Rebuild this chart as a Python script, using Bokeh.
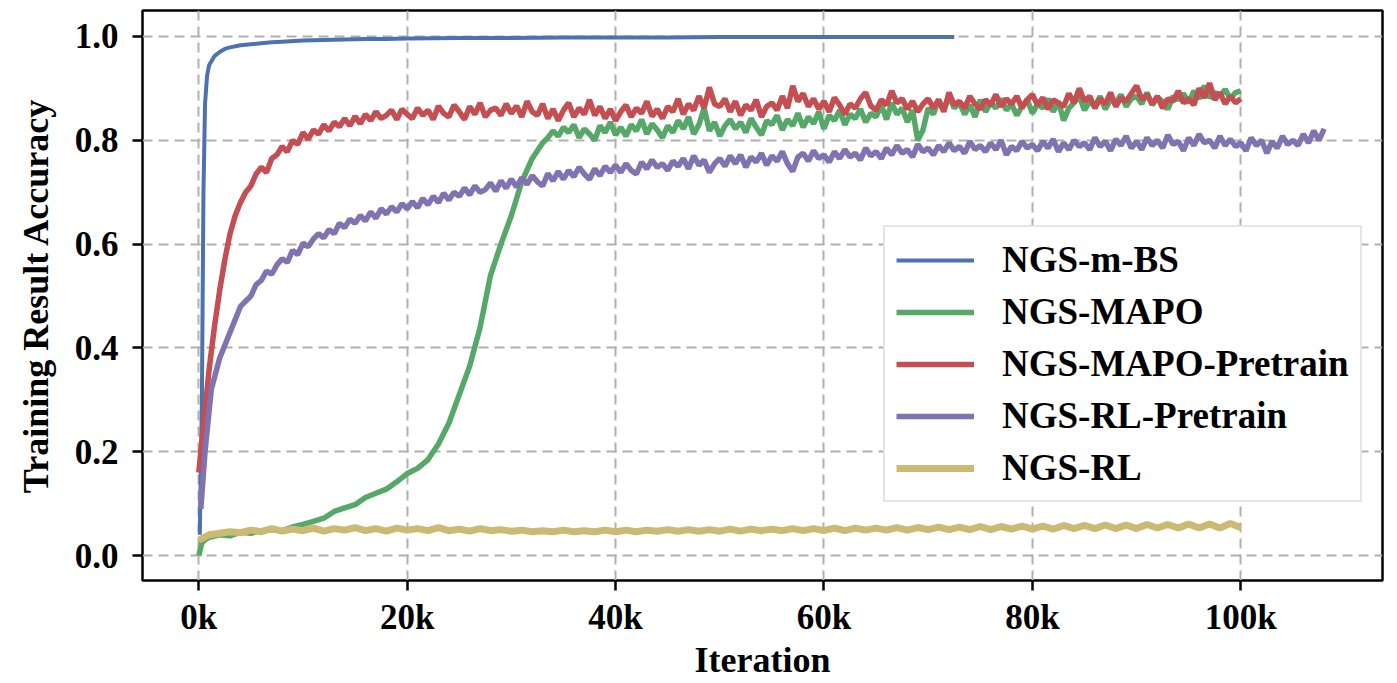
from bokeh.plotting import figure
from bokeh.models import Range1d, FixedTicker, Legend, LegendItem, NumeralTickFormatter
from bokeh.embed import file_html
from bokeh.resources import INLINE

# ---------------- data (iterations in thousands) ----------------
series_names = ["NGS-m-BS", "NGS-MAPO", "NGS-MAPO-Pretrain", "NGS-RL-Pretrain", "NGS-RL"]
series_colors = ["#4C72B0", "#55A868", "#C44E52", "#8172B2", "#CCB974"]

x_ticks = [0, 20, 40, 60, 80, 100]
x_tick_labels = ["0k", "20k", "40k", "60k", "80k", "100k"]
y_ticks = [0.0, 0.2, 0.4, 0.6, 0.8, 1.0]


def half_steps(start, stop):
    # sampling positions every 0.5k between start and stop (inclusive)
    return [start + 0.5 * i for i in range(int((stop - start) * 2) + 1)]


# NGS-m-BS
blue_x = [0.1, 0.3, 0.45, 0.6, 0.8, 1.0, 1.5, 2.0, 2.5, 3, 4, 5, 6, 7, 8, 10, 12, 14, 16, 18,
          20, 25, 30, 35, 40, 45, 50, 55, 60, 65, 70, 72.5]
blue_y = [0.04, 0.30, 0.70, 0.87, 0.925, 0.945, 0.962, 0.970, 0.976, 0.979, 0.983, 0.985, 0.987,
          0.989, 0.990, 0.992, 0.993, 0.994, 0.995, 0.995, 0.996, 0.997, 0.997, 0.998, 0.998,
          0.998, 0.999, 0.999, 0.999, 0.999, 0.999, 0.999]

# NGS-MAPO
green_x = [0, 0.3, 0.7] + list(range(1, 33)) + half_steps(33, 100)
green_y = [0.000, 0.025, 0.032,
           0.035, 0.040, 0.038, 0.045, 0.043, 0.048, 0.050, 0.048, 0.055, 0.060,
           0.066, 0.072, 0.085, 0.092, 0.098, 0.112, 0.120, 0.128, 0.142, 0.158,
           0.168, 0.185, 0.215, 0.255, 0.310, 0.365, 0.440, 0.540, 0.600, 0.655,
           0.720, 0.765,
           .795, .805, .818, .808, .825, .815, .830, .805, .822, .812,
           .800, .828, .815, .835, .810, .825, .808, .830, .818, .840,
           .812, .832, .820, .805, .828, .815, .838, .822, .845, .812,
           .830, .862, .818, .835, .808, .828, .840, .822, .835, .815,
           .842, .825, .810, .838, .830, .848, .820, .840, .828, .852,
           .825, .845, .832, .855, .822, .848, .838, .858, .830, .850,
           .842, .860, .835, .852, .845, .868, .840, .872, .850, .862,
           .835, .858, .800, .820, .862, .850, .878, .858, .885, .862,
           .872, .850, .868, .845, .878, .855, .872, .862, .880, .858,
           .870, .848, .865, .878, .852, .870, .862, .880, .855, .875,
           .838, .862, .872, .885, .858, .875, .865, .885, .860, .878,
           .872, .888, .865, .880, .885, .870, .892, .868, .882, .875,
           .860, .885, .878, .890, .872, .895, .880, .905, .882, .892,
           .885, .898, .880, .892, .895]

# NGS-MAPO-Pretrain
red_x = [0, 0.5, 1, 1.5, 2, 2.5, 3, 3.5, 4, 4.5] + half_steps(5, 100)
red_y = [0.160, 0.260, 0.360, 0.440, 0.510, 0.570, 0.620, 0.655, 0.680, 0.700,
         .712, .735, .748, .738, .765, .772, .788, .778, .800, .792,
         .815, .802, .820, .812, .830, .818, .835, .826, .842, .828,
         .846, .832, .850, .838, .855, .842, .848, .858, .840, .860,
         .850, .842, .862, .848, .858, .840, .866, .852, .845, .868,
         .855, .840, .865, .850, .872, .845, .858, .862, .848, .870,
         .852, .866, .845, .875, .855, .848, .870, .842, .860, .838,
         .858, .872, .845, .862, .850, .878, .848, .865, .842, .860,
         .838, .855, .868, .845, .862, .852, .875, .846, .860, .842,
         .865, .855, .880, .850, .870, .858, .885, .862, .902, .870,
         .865, .880, .855, .875, .848, .868, .858, .878, .845, .865,
         .872, .858, .885, .862, .905, .875, .890, .865, .880, .860,
         .875, .855, .882, .868, .850, .870, .862, .880, .892, .866,
         .858, .878, .868, .895, .872, .880, .860, .875, .855, .870,
         .880, .862, .878, .855, .892, .868, .875, .862, .885, .870,
         .860, .878, .868, .888, .865, .880, .870, .885, .862, .878,
         .888, .868, .882, .860, .878, .872, .865, .890, .872, .900,
         .875, .885, .862, .880, .870, .892, .865, .882, .875, .890,
         .905, .878, .888, .870, .885, .862, .880, .875, .895, .872,
         .880, .868, .900, .882, .910, .878, .892, .870, .885, .872,
         .880]

# NGS-RL-Pretrain
purple_x = [0.2, 0.6, 1.2, 2, 3, 4] + half_steps(5, 108)
purple_y = [0.090, 0.200, 0.320, 0.380, 0.430, 0.480,
            .500, .522, .530, .548, .542, .560, .572, .565, .588, .580,
            .602, .595, .610, .620, .612, .628, .620, .640, .632, .648,
            .640, .655, .645, .662, .650, .668, .658, .672, .662, .678,
            .668, .682, .670, .688, .676, .692, .680, .698, .685, .700,
            .692, .708, .695, .712, .700, .705, .718, .702, .722, .708,
            .725, .710, .728, .715, .732, .720, .712, .736, .722, .740,
            .725, .742, .730, .748, .735, .725, .745, .732, .750, .738,
            .752, .738, .755, .742, .735, .758, .745, .762, .748, .755,
            .742, .760, .750, .765, .745, .770, .752, .762, .738, .755,
            .765, .750, .770, .755, .772, .748, .768, .758, .775, .752,
            .770, .760, .778, .755, .740, .768, .775, .760, .780, .765,
            .772, .758, .778, .765, .782, .768, .775, .762, .785, .770,
            .778, .765, .785, .772, .790, .775, .782, .768, .792, .778,
            .785, .772, .790, .778, .795, .780, .788, .775, .798, .782,
            .790, .778, .795, .782, .800, .772, .788, .780, .798, .785,
            .792, .780, .798, .785, .802, .778, .795, .782, .800, .788,
            .795, .782, .805, .788, .798, .780, .802, .790, .808, .785,
            .798, .782, .805, .790, .800, .785, .810, .792, .798, .780,
            .805, .790, .812, .795, .800, .785, .808, .790, .802, .788,
            .795, .780, .805, .790, .800, .775, .798, .785, .808, .792,
            .800, .790, .812, .795, .818, .800, .822]

# NGS-RL
yellow_x = list(range(0, 101))
yellow_y = [0.030, 0.040, 0.043, 0.046, 0.044, 0.049, 0.046, 0.052, 0.047, 0.051,
            0.048, 0.053, 0.047, 0.052, 0.049, 0.054, 0.048, 0.052, 0.047, 0.053,
            0.049, 0.052, 0.048, 0.054, 0.048, 0.051, 0.047, 0.052, 0.048, 0.050,
            0.047, 0.049, 0.046, 0.048, 0.046, 0.049, 0.046, 0.048, 0.046, 0.049,
            0.046, 0.049, 0.046, 0.049, 0.047, 0.050, 0.047, 0.050, 0.047, 0.050,
            0.047, 0.051, 0.047, 0.051, 0.048, 0.051, 0.048, 0.052, 0.048, 0.052,
            0.048, 0.053, 0.048, 0.053, 0.049, 0.053, 0.049, 0.054, 0.049, 0.054,
            0.050, 0.055, 0.050, 0.055, 0.050, 0.056, 0.050, 0.056, 0.051, 0.057,
            0.051, 0.057, 0.051, 0.058, 0.052, 0.058, 0.052, 0.059, 0.052, 0.059,
            0.052, 0.060, 0.053, 0.060, 0.053, 0.061, 0.053, 0.061, 0.053, 0.062,
            0.054]

series_x = [blue_x, green_x, red_x, purple_x, yellow_x]
series_y = [blue_y, green_y, red_y, purple_y, yellow_y]
series_widths = [4, 5.5, 5.5, 5.5, 7]

# ---------------- figure ----------------
FONT = "Liberation Serif"

p = figure(width=1397, height=683, output_backend="svg", toolbar_location=None,
           x_range=Range1d(-5.4, 113.6), y_range=Range1d(-0.048, 1.05),
           min_border_left=142, min_border_right=15, min_border_top=10, min_border_bottom=103)

p.background_fill_color = "white"
p.border_fill_color = "white"
p.outline_line_color = "black"
p.outline_line_width = 2.5

items = []
for name, r_x, r_y, c, w in zip(series_names, series_x, series_y, series_colors, series_widths):
    r = p.line(r_x, r_y, line_color=c, line_width=w)
    items.append(LegendItem(label=name, renderers=[r]))

legend = Legend(items=items, location=(741, 78))
legend.label_text_font = FONT
legend.label_text_font_style = "bold"
legend.label_text_font_size = "37px"
legend.label_text_color = "black"
legend.glyph_width = 78
legend.glyph_height = 40
legend.label_height = 40
legend.spacing = 9
legend.padding = 11
legend.margin = 0
legend.label_standoff = 28
legend.border_line_color = "#cccccc"
legend.border_line_width = 2
legend.background_fill_color = "white"
legend.background_fill_alpha = 1.0
p.add_layout(legend)

# axes
p.xaxis.ticker = FixedTicker(ticks=x_ticks)
p.xaxis.major_label_overrides = {t: l for t, l in zip(x_ticks, x_tick_labels)}
p.yaxis.ticker = FixedTicker(ticks=y_ticks)
p.yaxis.formatter = NumeralTickFormatter(format="0.0")

for ax in (p.xaxis, p.yaxis):
    ax.axis_line_color = None
    ax.major_tick_line_color = "black"
    ax.major_tick_line_width = 2.5
    ax.major_tick_out = 10
    ax.major_tick_in = 0
    ax.minor_tick_line_color = None
    ax.major_label_text_font = FONT
    ax.major_label_text_font_style = "bold"
    ax.major_label_text_font_size = "35px"
    ax.major_label_text_color = "black"
    ax.axis_label_text_font = FONT
    ax.axis_label_text_font_style = "bold"
    ax.axis_label_text_font_size = "36px"
    ax.axis_label_text_color = "black"

p.xaxis.axis_label = "Iteration"
p.yaxis.axis_label = "Training Result Accuracy"
p.xaxis.major_label_standoff = 7
p.yaxis.major_label_standoff = 14
p.xaxis.axis_label_standoff = 0
p.yaxis.axis_label_standoff = 16

p.grid.grid_line_color = "#b0b0b0"
p.grid.grid_line_width = 2
p.grid.grid_line_dash = "10 6"
p.xgrid.ticker = FixedTicker(ticks=x_ticks)
p.ygrid.ticker = FixedTicker(ticks=y_ticks)

open("out.html", "w").write(file_html(p, INLINE))
